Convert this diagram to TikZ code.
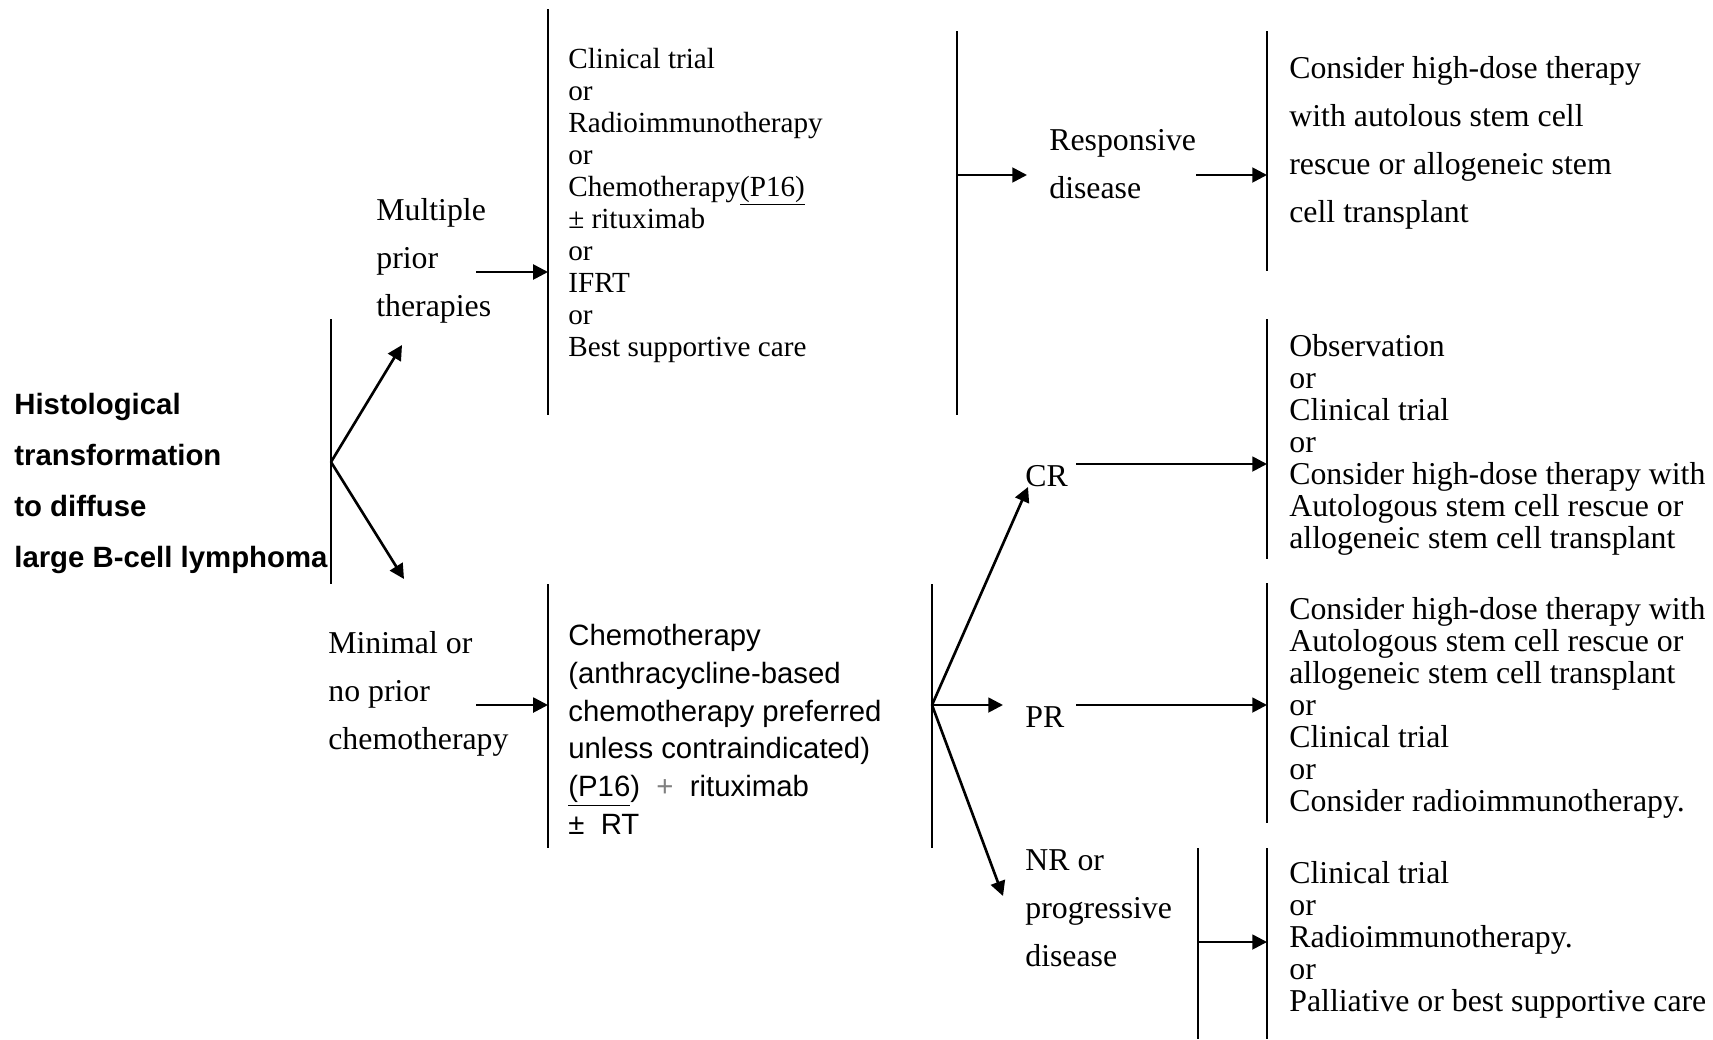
\documentclass[tikz,border=0pt]{standalone}
\usepackage{fontspec}
\setmainfont{Liberation Serif}
\newfontfamily\arialfont{Liberation Sans}
\usetikzlibrary{arrows.meta}

\begin{document}
\begin{tikzpicture}[x=0.2mm, y=-0.2mm,
        bar/.style={line width=1.1pt},
        arr/.style={line width=1.5pt, -{Triangle[length=8.4pt,width=8.4pt]}},
        txt/.style={anchor=base west, inner sep=0pt, align=left, font=\fontsize{18.1}{27.3}\selectfont},
        lst/.style={txt, font=\fontsize{18.1}{18.2}\selectfont}]
        \useasboundingbox (0,0) rectangle (1713,1039);

        % Title and first fork (nodes sit on the baseline of their last line)
        \node[txt, font=\arialfont\bfseries\fontsize{16.7}{29}\selectfont] (title) at (14,567)
            {Histological\\transformation\\to diffuse\\large B-cell lymphoma};
        \draw[bar] (331,319) -- (331,584);
        \coordinate (fork) at (331,462);
        \coordinate (up) at (402,345);
        \coordinate (down) at (404,579);
        \draw[arr] (fork) -- (up);
        \draw[arr] (fork) -- (down);

        % Multiple prior therapies
        \node[txt] (multi) at (376,316) {Multiple\\prior\\therapies};
        \coordinate (multiout) at (476,272);
        \coordinate (multiin) at (548,272);
        \draw[arr] (multiout) -- (multiin);
        \draw[bar] (548,9) -- (548,415);
        \node[lst, font=\fontsize{16.6}{18.2}\selectfont] (options) at (568,356)
            {Clinical trial\\or\\Radioimmunotherapy\\or\\Chemotherapy\underline{(P16)}\\± rituximab\\or\\IFRT\\or\\Best supportive care};
        \draw[bar] (957,31) -- (957,415);
        \coordinate (optout) at (957,175);
        \coordinate (respin) at (1027,175);
        \draw[arr] (optout) -- (respin);
        \node[txt] (resp) at (1049,198) {Responsive\\disease};
        \coordinate (respout) at (1196,175);
        \coordinate (hdtin) at (1267,175);
        \draw[arr] (respout) -- (hdtin);
        \draw[bar] (1267,31) -- (1267,271);
        \node[txt] (hdt) at (1289,222)
            {Consider high-dose therapy\\with autolous stem cell\\rescue or allogeneic stem\\cell transplant};

        % Minimal or no prior chemotherapy
        \node[txt] (minimal) at (328,749) {Minimal or\\no prior\\chemotherapy};
        \coordinate (minout) at (476,705);
        \coordinate (chemoin) at (548,705);
        \draw[arr] (minout) -- (chemoin);
        \draw[bar] (548,584) -- (548,848);
        \node[txt, font=\arialfont\fontsize{16.7}{21.4}\selectfont] (chemo) at (568,834)
            {Chemotherapy\\(anthracycline-based\\chemotherapy preferred\\unless contraindicated)\\\underline{(P16})\ \ {\color{gray}+}\ \ rituximab\\±\ \ RT};
        \draw[bar] (932,584) -- (932,848);
        \coordinate (fork2) at (932,705);
        \coordinate (crin) at (1028,487);
        \coordinate (prin) at (1003,705);
        \coordinate (nrin) at (1003,896);
        \draw[arr] (fork2) -- (crin);
        \draw[arr] (fork2) -- (prin);
        \draw[arr] (fork2) -- (nrin);

        % CR
        \node[txt] (cr) at (1025,486) {CR};
        \coordinate (crout) at (1076,464);
        \coordinate (obsin) at (1267,464);
        \draw[arr] (crout) -- (obsin);
        \draw[bar] (1267,319) -- (1267,559);
        \node[lst] (obs) at (1289,548)
            {Observation\\or\\Clinical trial\\or\\Consider high-dose therapy with\\Autologous stem cell rescue or\\allogeneic stem cell transplant};

        % PR
        \node[txt] (pr) at (1025,727) {PR};
        \coordinate (prout) at (1076,705);
        \coordinate (prlistin) at (1267,705);
        \draw[arr] (prout) -- (prlistin);
        \draw[bar] (1267,583) -- (1267,823);
        \node[lst] (prlist) at (1289,811)
            {Consider high-dose therapy with\\Autologous stem cell rescue or\\allogeneic stem cell transplant\\or\\Clinical trial\\or\\Consider radioimmunotherapy.};

        % NR or progressive disease
        \node[txt] (nr) at (1025,966) {NR or\\progressive\\disease};
        \draw[bar] (1198,848) -- (1198,1039);
        \coordinate (nrout) at (1198,942);
        \coordinate (nrlistin) at (1267,942);
        \draw[arr] (nrout) -- (nrlistin);
        \draw[bar] (1267,848) -- (1267,1039);
        \node[lst] (nrlist) at (1289,1011)
            {Clinical trial\\or\\Radioimmunotherapy.\\or\\Palliative or best supportive care};
\end{tikzpicture}
\end{document}
